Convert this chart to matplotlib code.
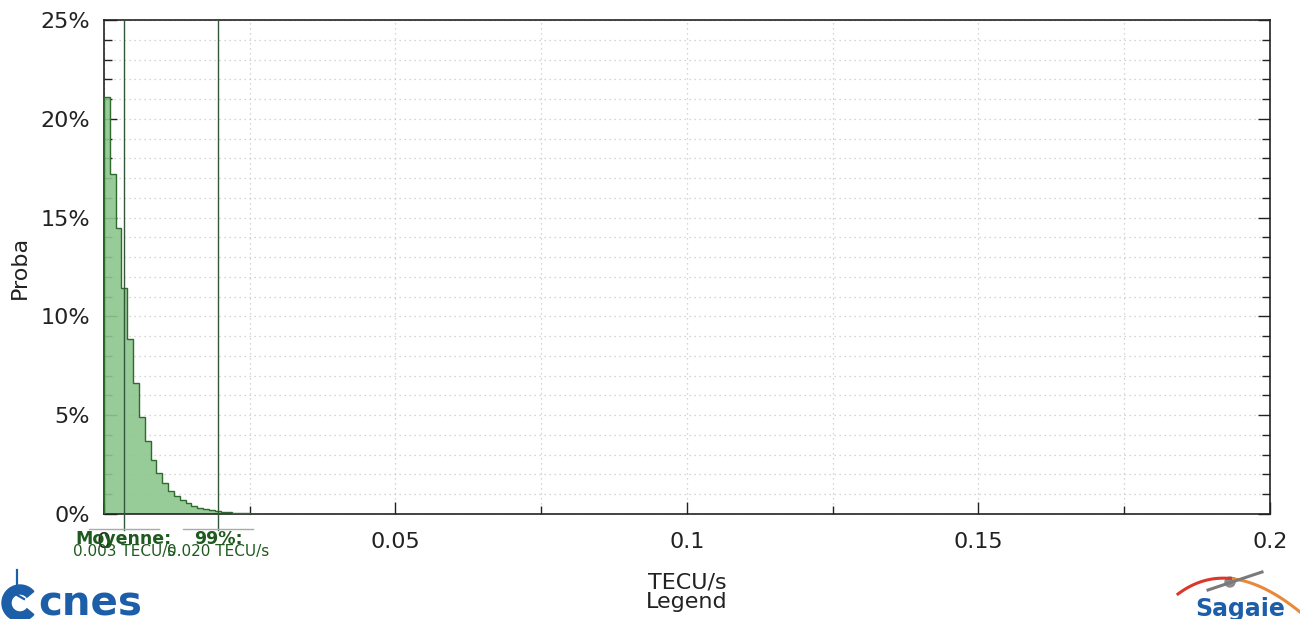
import matplotlib
matplotlib.use('Agg')
import matplotlib.pyplot as plt
import numpy as np
from matplotlib.patches import Wedge, Circle
from matplotlib.ticker import MultipleLocator, FixedLocator

# histogram of TECU/s, bins of 0.001, probability in %
bin_width = 0.001
proba = [21.1, 17.2, 14.45, 11.45, 8.85, 6.65, 4.93, 3.69, 2.75, 2.06,
         1.55, 1.18, 0.90, 0.70, 0.54, 0.40, 0.30, 0.24, 0.19, 0.14,
         0.10, 0.08, 0.06, 0.04, 0.03, 0.02, 0.02]
mean_val = 0.0034
p99_val = 0.0196
xticks = [0, 0.05, 0.1, 0.15, 0.2]
xtick_labels = ['0', '0.05', '0.1', '0.15', '0.2']
yticks = [0, 5, 10, 15, 20, 25]
ytick_labels = ['0%', '5%', '10%', '15%', '20%', '25%']

fig = plt.figure(figsize=(13, 6.19), dpi=100)
ax = fig.add_axes([0.08, 0.1696, 0.8969, 0.7981])

edges = np.arange(len(proba) + 1) * bin_width
ax.stairs(proba, edges, fill=True, color='#8cc68c', alpha=0.9, zorder=2)
ax.stairs(proba, edges, color='#2f6a2f', linewidth=1.0, zorder=3)

ax.set_xlim(0, 0.2)
ax.set_ylim(0, 25)
ax.xaxis.set_major_locator(FixedLocator(xticks))
ax.set_xticklabels(xtick_labels)
ax.xaxis.set_minor_locator(MultipleLocator(0.025))
ax.yaxis.set_major_locator(FixedLocator(yticks))
ax.set_yticklabels(ytick_labels)
ax.yaxis.set_minor_locator(MultipleLocator(1))
ax.tick_params(which='both', direction='in', top=False, right=True, labelsize=16, colors='#222222')
ax.tick_params(which='major', length=9, width=1)
ax.tick_params(which='minor', length=6, width=1)
ax.tick_params(axis='x', pad=13)
ax.tick_params(axis='y', pad=10)
ax.grid(which='both', linestyle=(0, (1, 3)), color='#c8c8c8', linewidth=0.9, zorder=0)
ax.set_axisbelow(True)
for s in ax.spines.values():
    s.set_color('#222222')
    s.set_linewidth(1.2)

ax.set_xlabel('TECU/s\nLegend', fontsize=16, color='#222222', labelpad=15, linespacing=0.95)
ax.set_ylabel('Proba', fontsize=16, color='#222222', labelpad=8)

# mean and 99% markers
tr = ax.get_xaxis_transform()
for v, title in [(mean_val, 'Moyenne:'), (p99_val, '99%:')]:
    ax.plot([v, v], [1.0, -0.032], transform=tr, color='#33573a', linewidth=1.0,
            clip_on=False, zorder=4)
    ax.plot([v - 0.006, v + 0.006], [-0.031, -0.031], transform=tr, color='#aaaaaa',
            linewidth=1.0, clip_on=False, zorder=4)
    ax.text(v, -0.051, title, transform=tr, ha='center', va='center', fontsize=12.5,
            fontweight='bold', color='#1e5a1e')
    ax.text(v, -0.076, f'{v:.3f} TECU/s', transform=tr, ha='center', va='center',
            fontsize=11, color='#1e5a1e')

# overlay in pixel coordinates for the logos
ov = fig.add_axes([0, 0, 1, 1], zorder=-1)
ov.set_xlim(0, 1300)
ov.set_ylim(619, 0)
ov.axis('off')

# cnes logo (bottom left)
blue = '#1c5ea8'
ov.add_patch(Wedge((20, 603), 18, 40, 320, width=9, color=blue))
ov.plot([17, 17, 24], [570, 595, 599], color=blue, linewidth=1.6)
ov.text(38, 615, 'cnes', fontsize=29, fontweight='bold', color=blue,
        ha='left', va='baseline')

# Sagaie logo (bottom right): swoosh + satellite
t = np.linspace(0, 1, 60)[:, None]
p0, p1, p2 = np.array([1178, 594]), np.array([1230, 555]), np.array([1300, 612])
curve = (1 - t) ** 2 * p0 + 2 * (1 - t) * t * p1 + t ** 2 * p2
ov.plot(curve[:30, 0], curve[:30, 1], color='#d9382a', linewidth=2.2)
ov.plot(curve[29:, 0], curve[29:, 1], color='#e8893a', linewidth=2.2)
ov.plot([1208, 1262], [590, 572], color='#7a7a7a', linewidth=2.2)
ov.add_patch(Circle((1230, 582), 5, color='#8a8a8a'))
ov.text(1240, 616, 'Sagaie', fontsize=17, fontweight='bold', color=blue,
        ha='center', va='baseline')

fig.savefig('out.png', dpi=100)
